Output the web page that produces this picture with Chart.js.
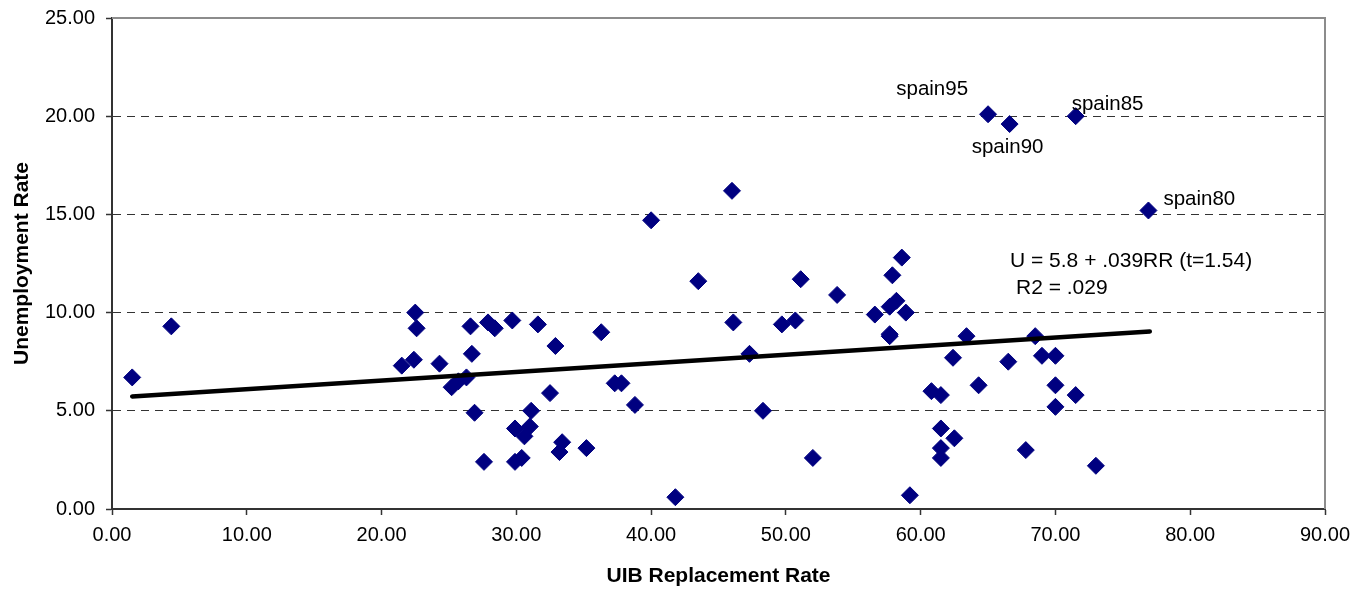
<!DOCTYPE html>
<html lang="en">
<head>
  <meta charset="UTF-8"/>
  <title>UIB Replacement Rate vs Unemployment</title>
  <script src="https://cdn.jsdelivr.net/npm/chart.js"></script>
  <style>
    html, body {
      margin: 0;
      padding: 0;
      background: #fff;
    }
    #wrap {
      width: 1371px;
      height: 593px;
    }
  </style>
</head>
<body>
  <div id="wrap"><canvas id="scatterChart"></canvas></div>

  <script>
    const uibRate = [1.5, 4.4, 21.5, 22.4, 22.5, 22.6, 24.3, 25.2, 25.7, 26.3,
      26.6, 26.7, 26.9, 27.6, 27.9, 28.4, 29.7, 29.9, 29.9, 30.4,
      30.6, 31.0, 31.1, 31.6, 32.5, 32.9, 33.2, 33.4, 35.2, 36.3,
      37.3, 37.8, 38.8, 40.0, 41.8, 43.5, 46.0, 46.1, 47.3, 48.3,
      49.7, 50.7, 51.1, 52.0, 53.8, 56.6, 57.7, 57.7, 57.7, 57.9,
      58.2, 58.6, 58.9, 59.2, 60.8, 61.5, 61.5, 61.5, 61.5, 62.5,
      62.4, 63.4, 64.3, 66.5, 67.8, 68.5, 69.0, 70.0, 70.0, 70.0,
      71.5, 73.0];
    const unempRate = [6.7, 9.3, 7.3, 7.6, 10.0, 9.2, 7.4, 6.2, 6.5, 6.7,
      9.3, 7.9, 4.9, 2.4, 9.5, 9.2, 9.6, 4.1, 2.4, 2.6,
      3.7, 4.2, 5.0, 9.4, 5.9, 8.3, 2.9, 3.4, 3.1, 9.0,
      6.4, 6.4, 5.3, 14.7, 0.6, 11.6, 16.2, 9.5, 7.9, 5.0,
      9.4, 9.6, 11.7, 2.6, 10.9, 9.9, 8.9, 8.8, 10.3, 11.9,
      10.6, 12.8, 10.0, 0.7, 6.0, 5.8, 4.1, 3.1, 2.6, 3.6,
      7.7, 8.8, 6.3, 7.5, 3.0, 8.8, 7.8, 7.8, 6.3, 5.2,
      5.8, 2.2];

    // labelled Spanish observations
    const spainNames = ['spain95', 'spain90', 'spain85', 'spain80'];
    const spainRate = [65.0, 66.6, 71.5, 76.9];
    const spainUnemp = [20.1, 19.6, 20.0, 15.2];

    // fitted line end points and its caption
    const fitX = [1.5, 77.0];
    const fitY = [5.73, 9.04];
    const fitText = ['U = 5.8 + .039RR (t=1.54)', 'R2 = .029'];

    const xTicks = [0, 10, 20, 30, 40, 50, 60, 70, 80, 90];
    const yTicks = [0, 5, 10, 15, 20, 25];

    const FONT = "'Liberation Sans', Arial, sans-serif";

    const points = uibRate.map((x, i) => ({x: x, y: unempRate[i]}))
      .concat(spainRate.map((x, i) => ({x: x, y: spainUnemp[i]})));
    const fitLine = fitX.map((x, i) => ({x: x, y: fitY[i]}));

    // label offsets (pixels from the marker) and alignment
    const spainLabelStyle = [
      {dx: -20, dy: -25, align: 'right'},
      {dx: -2, dy: 23, align: 'center'},
      {dx: -4, dy: -12, align: 'left'},
      {dx: 15, dy: -11, align: 'left'}
    ];

    const textPlugin = {
      id: 'texts',
      beforeDatasetsDraw(chart) {
        const {ctx, chartArea: a} = chart;
        ctx.save();
        ctx.strokeStyle = '#8c8c8c';
        ctx.lineWidth = 2;
        ctx.beginPath();
        ctx.moveTo(a.left, a.top);
        ctx.lineTo(a.right, a.top);
        ctx.lineTo(a.right, a.bottom);
        ctx.stroke();
        ctx.restore();
      },
      afterDatasetsDraw(chart) {
        const {ctx, scales: {x, y}, chartArea: a} = chart;
        ctx.save();
        ctx.fillStyle = '#000';
        ctx.font = '20.5px ' + FONT;
        ctx.textBaseline = 'middle';
        spainNames.forEach((name, i) => {
          const s = spainLabelStyle[i];
          ctx.textAlign = s.align;
          ctx.fillText(name, x.getPixelForValue(spainRate[i]) + s.dx,
            y.getPixelForValue(spainUnemp[i]) + s.dy);
        });
        ctx.font = '21px ' + FONT;
        ctx.textAlign = 'left';
        ctx.fillText(fitText[0], a.left + 898, y.getPixelForValue(12.6));
        ctx.fillText(fitText[1], a.left + 904, y.getPixelForValue(11.23));
        ctx.restore();
      }
    };

    new Chart(document.getElementById('scatterChart'), {
      type: 'scatter',
      data: {
        datasets: [
          {
            type: 'line',
            data: fitLine,
            borderColor: '#000',
            borderWidth: 4.5,
            borderCapStyle: 'round',
            pointRadius: 0,
            fill: false,
            order: 0
          },
          {
            data: points,
            pointStyle: 'rectRot',
            pointRadius: 8.5,
            pointHoverRadius: 8.5,
            backgroundColor: '#000080',
            borderColor: '#000080',
            borderWidth: 1,
            order: 1
          }
        ]
      },
      options: {
        responsive: true,
        maintainAspectRatio: false,
        animation: false,
        layout: {padding: {top: 18, right: 46, bottom: 0, left: 0}},
        plugins: {
          legend: {display: false},
          tooltip: {enabled: false}
        },
        scales: {
          x: {
            type: 'linear',
            min: 0,
            max: 90,
            afterBuildTicks: s => { s.ticks = xTicks.map(v => ({value: v})); },
            afterFit: s => { s.height = 84; },
            ticks: {
              color: '#000',
              font: {family: FONT, size: 20},
              padding: 8,
              maxRotation: 0,
              callback: v => v.toFixed(2)
            },
            grid: {
              drawOnChartArea: false,
              drawTicks: true,
              tickLength: 6,
              tickColor: '#333',
              tickWidth: 1.5
            },
            border: {color: '#333', width: 2},
            title: {
              display: true,
              text: 'UIB Replacement Rate',
              color: '#000',
              font: {family: FONT, size: 21, weight: 'bold'},
              padding: {top: 0, bottom: 4}
            }
          },
          y: {
            type: 'linear',
            min: 0,
            max: 25,
            afterBuildTicks: s => { s.ticks = yTicks.map(v => ({value: v})); },
            afterFit: s => { s.width = 112; },
            ticks: {
              color: '#000',
              font: {family: FONT, size: 20, lineHeight: 0.6},
              padding: 11,
              callback: v => v.toFixed(2)
            },
            grid: {
              color: c => (c.tick && c.tick.value > 0 && c.tick.value < 25) ? '#333' : 'rgba(0,0,0,0)',
              lineWidth: 1,
              drawTicks: true,
              tickLength: 6,
              tickColor: '#333',
              tickWidth: 1.5
            },
            border: {color: '#333', width: 2, dash: [8, 6]},
            title: {
              display: true,
              text: 'Unemployment Rate',
              color: '#000',
              font: {family: FONT, size: 21, weight: 'bold'},
              padding: {top: 10, bottom: 0}
            }
          }
        }
      },
      plugins: [textPlugin]
    });
  </script>
</body>
</html>
